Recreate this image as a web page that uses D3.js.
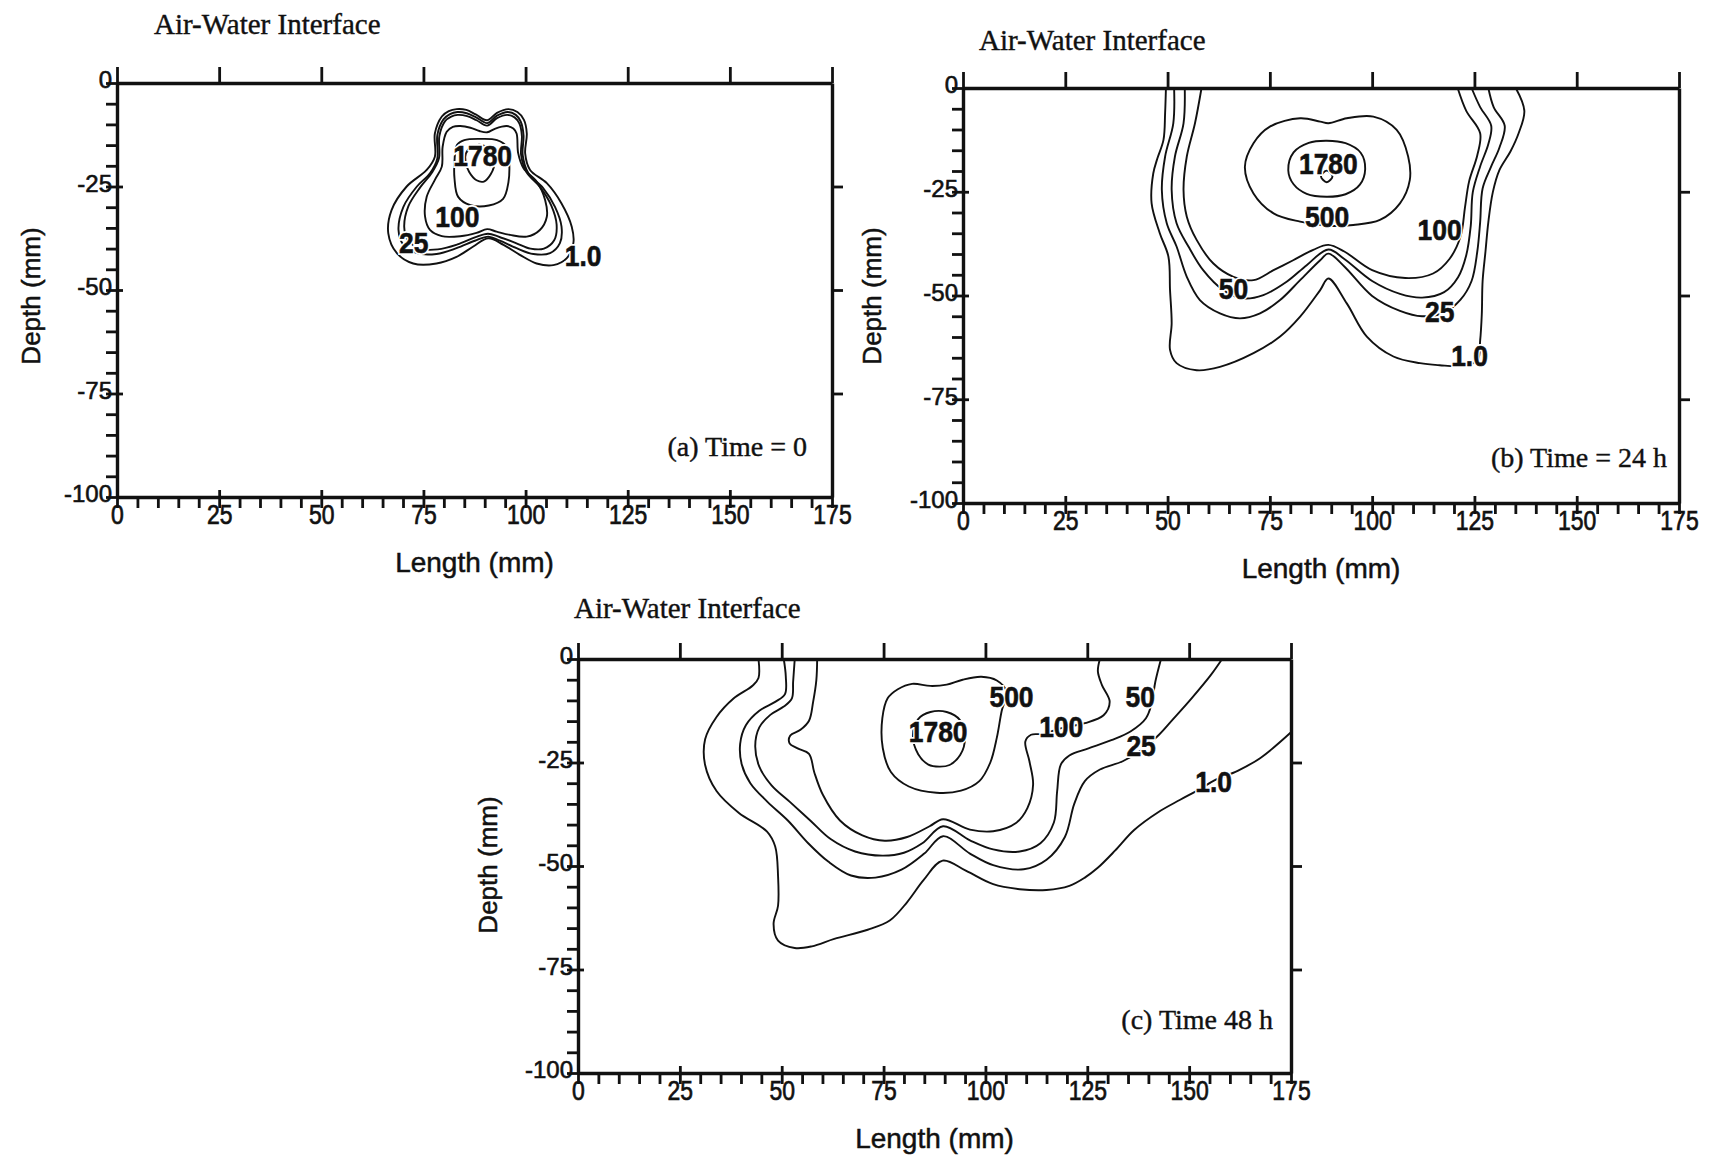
<!DOCTYPE html>
<html>
<head>
<meta charset="utf-8">
<script src="https://cdn.jsdelivr.net/npm/d3@7"></script>
<style>
  html, body { margin: 0; padding: 0; background: #fff; }
  svg { display: block; }
</style>
</head>
<body>
<svg id="fig" width="1714" height="1161"></svg>
<script>
// ---- axis ticks and texts ----
const lengthTicks = [0, 25, 50, 75, 100, 125, 150, 175];
const lengthMinor = d3.range(0, 176, 5);
const depthTicks = [-100, -75, -50, -25, 0];
const depthMinor = d3.range(-100, 1, 5);
const depthRightTicks = [-25, -50, -75];
const surfaceText = "Air-Water Interface";
const xTitle = "Length (mm)";
const yTitle = "Depth (mm)";
const panelNames = ["(a) Time = 0", "(b) Time = 24 h", "(c) Time 48 h"];

// ---- concentration contours, [length mm, depth mm] ----
// (a) Time = 0
const contoursA = [
  { level: "1.0", closed: true, pts: [[79.5,-8.1],[81.2,-6.8],[83.1,-6.3],[85.5,-6.5],[87.8,-7.6],[90.6,-9.0],[93.0,-7.2],[95.8,-6.3],[98.0,-7.0],[99.6,-8.9],[100.3,-12.2],[99.9,-17.0],[101.1,-21.0],[105.2,-24.2],[108.8,-29.1],[111.3,-34.7],[111.7,-38.7],[110.1,-42.3],[106.8,-44.0],[102.7,-43.6],[98.6,-41.5],[94.6,-39.1],[90.9,-37.5],[87.2,-39.5],[83.1,-42.0],[78.2,-43.6],[72.5,-43.6],[68.5,-41.1],[66.4,-36.3],[67.2,-30.7],[70.9,-25.0],[75.8,-21.0],[77.8,-17.8],[77.8,-12.2]] },
  { level: "25", closed: true, pts: [[79.9,-8.8],[81.5,-7.5],[83.3,-7.0],[85.6,-7.3],[87.9,-8.3],[90.6,-9.7],[93.0,-7.9],[95.6,-7.0],[97.6,-7.7],[98.8,-9.3],[99.5,-12.6],[99.3,-17.4],[100.7,-21.8],[104.3,-25.4],[107.2,-29.9],[108.8,-34.7],[108.4,-38.7],[106.0,-41.1],[101.9,-41.3],[97.8,-39.9],[93.7,-38.1],[90.9,-37.1],[87.6,-38.1],[83.1,-39.9],[78.2,-41.3],[73.4,-41.1],[70.1,-39.1],[68.9,-35.5],[70.1,-29.9],[73.4,-25.0],[76.6,-21.8],[78.4,-18.2],[78.4,-12.6]] },
  { level: "50", closed: true, pts: [[80.3,-9.2],[81.8,-8.1],[83.4,-7.7],[85.7,-8.0],[88.0,-9.0],[90.6,-10.3],[93.0,-8.5],[95.5,-7.7],[97.3,-8.3],[98.5,-9.8],[99.1,-12.8],[98.9,-17.3],[100.2,-21.5],[103.6,-25.2],[106.3,-29.6],[107.6,-34.2],[107.0,-38.0],[104.5,-40.0],[101.2,-40.0],[97.5,-38.6],[93.6,-37.2],[90.8,-36.4],[87.6,-37.3],[83.3,-39.0],[78.5,-40.2],[74.2,-40.0],[71.2,-38.0],[70.3,-34.8],[71.3,-29.8],[74.2,-25.2],[77.1,-21.6],[78.8,-18.2],[78.9,-12.8]] },
  { level: "100", closed: true, pts: [[80.7,-11.8],[82.2,-10.6],[84.0,-10.4],[86.5,-10.8],[88.7,-11.6],[90.6,-11.9],[92.6,-11.0],[95.4,-10.4],[97.0,-11.0],[97.8,-12.2],[98.2,-17.0],[99.5,-20.6],[102.7,-23.8],[104.8,-28.3],[105.2,-32.3],[103.5,-35.5],[100.3,-37.1],[96.2,-36.7],[92.9,-35.9],[90.6,-35.3],[88.0,-36.2],[84.0,-37.0],[79.5,-37.0],[76.6,-35.5],[75.4,-32.3],[75.8,-27.5],[77.8,-23.4],[79.5,-20.2],[79.7,-15.4]] },
  { level: "500", closed: true, pts: [[83.2,-15.0],[85.0,-13.8],[89.0,-13.5],[93.0,-13.8],[95.5,-15.5],[96.0,-19.0],[95.8,-24.0],[94.5,-28.0],[91.0,-29.6],[86.5,-29.5],[83.5,-27.5],[82.6,-23.0],[82.6,-19.0]] },
  { level: "1780", closed: true, pts: [[85.4,-17.0],[87.0,-15.3],[89.5,-15.0],[91.5,-16.5],[92.4,-19.0],[91.5,-22.0],[89.8,-23.8],[88.0,-23.5],[86.2,-21.5],[85.3,-19.0]] }
];
const labelsA = [
  { text: "1780", at: [89.5, -17.6] },
  { text: "100", at: [83.3, -32.3] },
  { text: "25", at: [72.6, -38.6] },
  { text: "1.0", at: [114.1, -41.6] }
];

// (b) Time = 24 h
const contoursB = [
  { level: "1.0", closed: false, pts: [[49.6,0],[49.4,-6.0],[49.0,-12.5],[47.5,-17.0],[46.5,-20.6],[46.1,-27.8],[48.1,-35.0],[50.2,-40.6],[50.6,-48.7],[51.0,-56.7],[50.6,-63.1],[52.2,-66.3],[57.1,-68.0],[62.8,-67.2],[71.0,-63.9],[77.5,-59.9],[82.4,-55.1],[87.3,-48.7],[89.3,-45.9],[93.8,-51.9],[98.7,-59.9],[105.2,-64.7],[111.7,-66.3],[116.5,-66.8],[121.6,-67.0],[125.7,-65.7],[126.4,-60.8],[126.8,-54.5],[127.0,-46.5],[127.7,-39.4],[128.4,-32.3],[129.5,-25.1],[131.1,-19.8],[133.8,-15.3],[135.8,-10.9],[137.2,-5.5],[135.1,0]] },
  { level: "25", closed: false, pts: [[51.6,0],[51.4,-8.5],[49.4,-16.5],[48.6,-24.6],[49.8,-32.6],[52.2,-38.2],[54.7,-45.5],[57.9,-51.1],[62.8,-54.3],[67.7,-55.5],[72.6,-54.3],[77.5,-51.1],[82.4,-46.3],[87.3,-41.5],[89.3,-39.9],[93.2,-43.0],[100.0,-50.1],[106.8,-53.7],[112.2,-55.0],[117.6,-54.1],[121.6,-51.0],[124.3,-46.5],[125.7,-39.4],[126.4,-32.3],[127.0,-24.2],[129.1,-18.9],[131.1,-14.4],[132.4,-9.1],[129.7,-4.6],[128.4,0]] },
  { level: "50", closed: false, pts: [[54.2,0],[53.9,-8.5],[51.8,-16.5],[51.0,-24.6],[52.2,-32.6],[55.1,-38.2],[58.7,-43.9],[63.6,-48.7],[68.5,-50.7],[73.4,-49.9],[79.1,-46.7],[84.0,-42.7],[89.3,-38.9],[93.2,-41.2],[100.0,-46.5],[106.8,-49.6],[112.2,-50.5],[117.6,-49.2],[121.0,-45.6],[123.0,-40.3],[124.1,-33.2],[124.6,-25.1],[126.4,-18.9],[128.4,-13.5],[129.1,-9.1],[126.4,-4.6],[124.3,0]] },
  { level: "100", closed: false, pts: [[58.3,0],[56.7,-8.5],[54.7,-16.5],[53.9,-24.6],[54.7,-31.0],[57.1,-36.6],[61.2,-42.3],[66.1,-45.5],[71.0,-46.3],[75.9,-43.9],[80.7,-41.5],[85.6,-39.0],[89.3,-37.8],[93.2,-39.4],[100.0,-43.9],[108.1,-45.8],[114.9,-44.7],[118.9,-41.2],[121.6,-35.8],[122.7,-28.7],[123.7,-22.5],[125.7,-16.2],[126.4,-10.9],[123.0,-5.5],[120.9,0]] },
  { level: "500", closed: true, pts: [[68.9,-19.0],[71.0,-13.3],[75.0,-9.3],[82.4,-7.3],[87.3,-8.1],[89.3,-8.5],[93.8,-7.3],[100.3,-6.9],[106.0,-10.1],[108.8,-16.5],[109.2,-22.2],[106.8,-27.8],[101.9,-31.8],[95.4,-33.0],[89.1,-33.2],[82.4,-32.2],[75.9,-30.2],[71.0,-25.4]] },
  { level: "1780", closed: true, pts: [[79.5,-19.8],[80.8,-15.5],[84.5,-13.2],[88.9,-12.7],[93.5,-13.3],[97.2,-15.6],[98.3,-19.5],[97.0,-23.3],[93.5,-25.6],[88.8,-26.2],[84.0,-25.5],[80.8,-23.2]] },
  { level: "1780", closed: true, pts: [[87.5,-21.3],[88.9,-19.9],[90.3,-21.3],[88.9,-22.7]] }
];
const labelsB = [
  { text: "1780", at: [89.3, -18.3] },
  { text: "500", at: [89.0, -31.0] },
  { text: "100", at: [116.5, -34.1] },
  { text: "50", at: [66.1, -48.3] },
  { text: "25", at: [116.5, -53.8] },
  { text: "1.0", at: [123.8, -64.4] }
];

// (c) Time 48 h
const contoursC = [
  { level: "1.0", closed: false, pts: [[44.3,0],[44.3,-4.6],[42.9,-6.4],[38.1,-9.6],[34.0,-14.0],[31.2,-19.4],[31.2,-25.6],[34.0,-31.9],[39.5,-37.2],[46.4,-41.7],[48.4,-45.3],[49.1,-52.4],[49.1,-59.6],[48.0,-64.0],[49.1,-68.0],[53.2,-69.8],[57.4,-69.4],[62.9,-67.6],[71.1,-65.4],[76.6,-63.1],[80.8,-58.7],[84.9,-53.3],[89.5,-48.7],[95.3,-51.2],[101.9,-54.4],[108.4,-55.6],[115.0,-55.8],[120.6,-54.8],[124.4,-52.8],[127.5,-50.5],[131.8,-46.3],[136.5,-41.3],[142.4,-37.0],[147.8,-34.0],[152.5,-31.5],[156.2,-29.3],[161.9,-27.0],[167.5,-23.9],[175.0,-17.7]] },
  { level: "25", closed: false, pts: [[50.5,0],[51.0,-4.2],[50.8,-8.5],[48.5,-10.3],[44.5,-12.5],[41.2,-16.0],[39.8,-20.5],[40.2,-25.5],[42.3,-30.0],[46.5,-34.5],[51.5,-39.0],[56.5,-44.5],[61.5,-49.0],[67.0,-52.3],[73.0,-52.8],[79.4,-50.9],[85.0,-47.0],[89.6,-42.8],[96.2,-47.0],[101.9,-49.8],[109.4,-50.8],[115.0,-48.5],[119.5,-43.0],[121.8,-35.0],[124.4,-29.5],[128.1,-26.7],[133.7,-24.7],[138.4,-21.9],[142.6,-18.3],[145.9,-14.7],[150.6,-9.5],[155.3,-3.9],[158.1,0]] },
  { level: "50", closed: false, pts: [[53.2,0],[52.8,-5.5],[52.5,-9.5],[50.5,-11.5],[47.2,-13.5],[44.5,-16.5],[43.5,-21.0],[44.5,-26.0],[47.5,-30.5],[52.0,-34.5],[57.0,-39.0],[62.0,-43.5],[68.0,-46.5],[74.7,-47.5],[80.0,-46.8],[84.5,-44.5],[89.6,-40.4],[96.2,-43.8],[101.9,-46.0],[108.4,-46.5],[113.5,-44.5],[116.8,-39.5],[117.6,-32.0],[118.5,-25.5],[120.6,-23.3],[125.3,-21.6],[130.9,-19.6],[135.6,-17.5],[139.4,-14.3],[140.8,-10.7],[141.7,-5.5],[143.1,0]] },
  { level: "100", closed: false, pts: [[58.7,0],[58.5,-5.1],[57.7,-10.4],[56.7,-14.9],[54.6,-17.1],[52.1,-18.5],[51.9,-20.3],[53.9,-21.6],[56.7,-22.9],[58.0,-27.4],[60.1,-32.8],[64.3,-39.0],[69.8,-42.6],[75.3,-43.9],[80.8,-43.0],[86.3,-40.4],[89.6,-38.7],[96.2,-41.2],[101.9,-41.6],[107.5,-39.6],[110.3,-36.0],[111.7,-30.3],[110.8,-24.7],[109.8,-19.9],[111.2,-18.3],[114.0,-18.1],[118.7,-16.7],[124.4,-15.5],[129.0,-13.6],[130.5,-10.3],[128.6,-6.3],[127.6,-3.0],[128.1,0]] },
  { level: "500", closed: true, pts: [[76.0,-9.5],[78.5,-7.3],[82.0,-6.0],[86.5,-6.5],[90.5,-6.2],[94.4,-5.0],[99.0,-4.3],[102.8,-5.2],[105.2,-7.9],[104.0,-12.5],[102.8,-19.0],[101.2,-25.0],[98.5,-29.5],[94.0,-31.8],[88.0,-32.3],[81.2,-30.8],[76.8,-27.3],[74.8,-21.5],[74.7,-14.3]] },
  { level: "1780", closed: true, pts: [[82.2,-18.5],[83.5,-14.5],[86.5,-12.8],[90.5,-12.8],[93.8,-14.8],[95.0,-19.0],[93.8,-23.2],[91.2,-25.6],[88.7,-26.0],[86.0,-25.5],[83.5,-23.0]] }
];
const labelsC = [
  { text: "1780", at: [88.4, -17.6] },
  { text: "500", at: [106.4, -9.1] },
  { text: "100", at: [118.6, -16.4] },
  { text: "50", at: [138.0, -9.1] },
  { text: "25", at: [138.2, -20.9] },
  { text: "1.0", at: [156.0, -29.5] }
];

// ---- page layout ----
const SANS = "'Liberation Sans', Arial, Helvetica, sans-serif";
const SERIF = "'Liberation Serif', 'Times New Roman', Times, serif";
const INK = "#111";

const panels = [
  { name: panelNames[0], lines: contoursA, labels: labelsA,
    left: 117, top: 83, width: 715, height: 414,
    surfX: 154, surfY: 34, timeX: 807, timeY: 456, depthX: 31, depthY: 296 },
  { name: panelNames[1], lines: contoursB, labels: labelsB,
    left: 963, top: 88, width: 716, height: 415,
    surfX: 979, surfY: 50, timeX: 1667, timeY: 467, depthX: 872, depthY: 296 },
  { name: panelNames[2], lines: contoursC, labels: labelsC,
    left: 578, top: 659, width: 713, height: 414,
    surfX: 574, surfY: 618, timeX: 1273, timeY: 1029, depthX: 488, depthY: 865 }
];

const svg = d3.select("#fig");

// squeeze a text element horizontally to mimic a narrow face
function condense(sel, k) {
  sel.each(function () {
    const w = this.getComputedTextLength();
    if (w > 0) {
      this.setAttribute("textLength", (w * k).toFixed(1));
      this.setAttribute("lengthAdjust", "spacingAndGlyphs");
    }
  });
}

// give printed text a little extra weight
function inked(sel, w) {
  sel.attr("fill", INK).attr("stroke", INK).attr("stroke-width", w);
}

panels.forEach(p => {
  const x = d3.scaleLinear().domain([0, 175]).range([0, p.width]);
  const y = d3.scaleLinear().domain([-100, 0]).range([p.height, 0]);
  const g = svg.append("g").attr("transform", `translate(${p.left},${p.top})`);

  const openLine = d3.line().x(d => x(d[0])).y(d => y(d[1]))
    .curve(d3.curveCatmullRom.alpha(0.5));
  const closedLine = d3.line().x(d => x(d[0])).y(d => y(d[1]))
    .curve(d3.curveCatmullRomClosed.alpha(0.5));

  // contour lines
  g.append("g").selectAll("path").data(p.lines).join("path")
    .attr("d", d => (d.closed ? closedLine : openLine)(d.pts))
    .attr("fill", "none")
    .attr("stroke", INK)
    .attr("stroke-width", 1.9)
    .attr("stroke-linejoin", "round");

  // contour labels: white backing stroke, then the ink on top
  const lab = g.append("g").selectAll("g").data(p.labels).join("g")
    .attr("transform", d => `translate(${x(d.at[0])},${y(d.at[1])})`);
  ["halo", "ink"].forEach(kind => {
    lab.append("text")
      .attr("text-anchor", "middle")
      .attr("dominant-baseline", "central")
      .attr("font-family", SANS)
      .attr("font-weight", "bold")
      .attr("font-size", 30)
      .attr("fill", kind === "halo" ? "#fff" : INK)
      .attr("stroke", kind === "halo" ? "#fff" : INK)
      .attr("stroke-width", kind === "halo" ? 4 : 0.6)
      .text(d => d.text)
      .call(condense, 0.88);
  });

  // bottom axis: minor ticks every 5 mm, labels at 25 mm
  const gb = g.append("g").attr("transform", `translate(0,${p.height})`)
    .call(d3.axisBottom(x).tickValues(lengthMinor).tickSizeInner(11).tickSizeOuter(0)
      .tickFormat(d => lengthTicks.includes(d) ? String(d) : ""));
  gb.selectAll(".tick line").attr("y1", d => lengthTicks.includes(d) ? -7 : 0);
  gb.attr("font-size", 27).attr("font-family", SANS);
  gb.selectAll(".tick text").attr("y", 8).call(inked, 0.7);

  // left axis
  const gl = g.append("g")
    .call(d3.axisLeft(y).tickValues(depthMinor).tickSizeInner(11).tickSizeOuter(0)
      .tickFormat(d => depthTicks.includes(d) ? String(d) : ""));
  gl.selectAll(".tick line").attr("x1", d => depthTicks.includes(d) ? 6 : 0);
  gl.attr("font-size", 24).attr("font-family", SANS);
  gl.selectAll(".tick text").attr("x", -5).attr("dy", "0.2em").call(inked, 0.6);

  // top axis (the interface)
  g.append("g")
    .call(d3.axisTop(x).tickValues(lengthTicks).tickSizeInner(16).tickSizeOuter(0).tickFormat(""));

  // right axis
  g.append("g").attr("transform", `translate(${p.width},0)`)
    .call(d3.axisRight(y).tickValues(depthRightTicks).tickSizeInner(11).tickSizeOuter(0).tickFormat(""));

  g.selectAll(".domain").attr("stroke", INK).attr("stroke-width", 3.4);
  g.selectAll(".tick line").attr("stroke", INK).attr("stroke-width", 2.8);

  gb.selectAll(".tick text").call(condense, 0.85);

  // titles
  svg.append("text")
    .attr("x", p.left + p.width / 2)
    .attr("y", p.top + p.height + 75)
    .attr("text-anchor", "middle")
    .attr("font-family", SANS)
    .attr("font-size", 28)
    .call(inked, 0.5)
    .text(xTitle);

  svg.append("text")
    .attr("transform", `translate(${p.depthX},${p.depthY}) rotate(-90)`)
    .attr("text-anchor", "middle")
    .attr("dominant-baseline", "central")
    .attr("font-family", SANS)
    .attr("font-size", 26)
    .call(inked, 0.5)
    .text(yTitle);

  svg.append("text")
    .attr("x", p.surfX)
    .attr("y", p.surfY)
    .attr("font-family", SERIF)
    .attr("font-size", 29)
    .call(inked, 0.4)
    .text(surfaceText);

  svg.append("text")
    .attr("x", p.timeX)
    .attr("y", p.timeY)
    .attr("text-anchor", "end")
    .attr("font-family", SERIF)
    .attr("font-size", 28)
    .call(inked, 0.4)
    .text(p.name);
});
</script>
</body>
</html>
